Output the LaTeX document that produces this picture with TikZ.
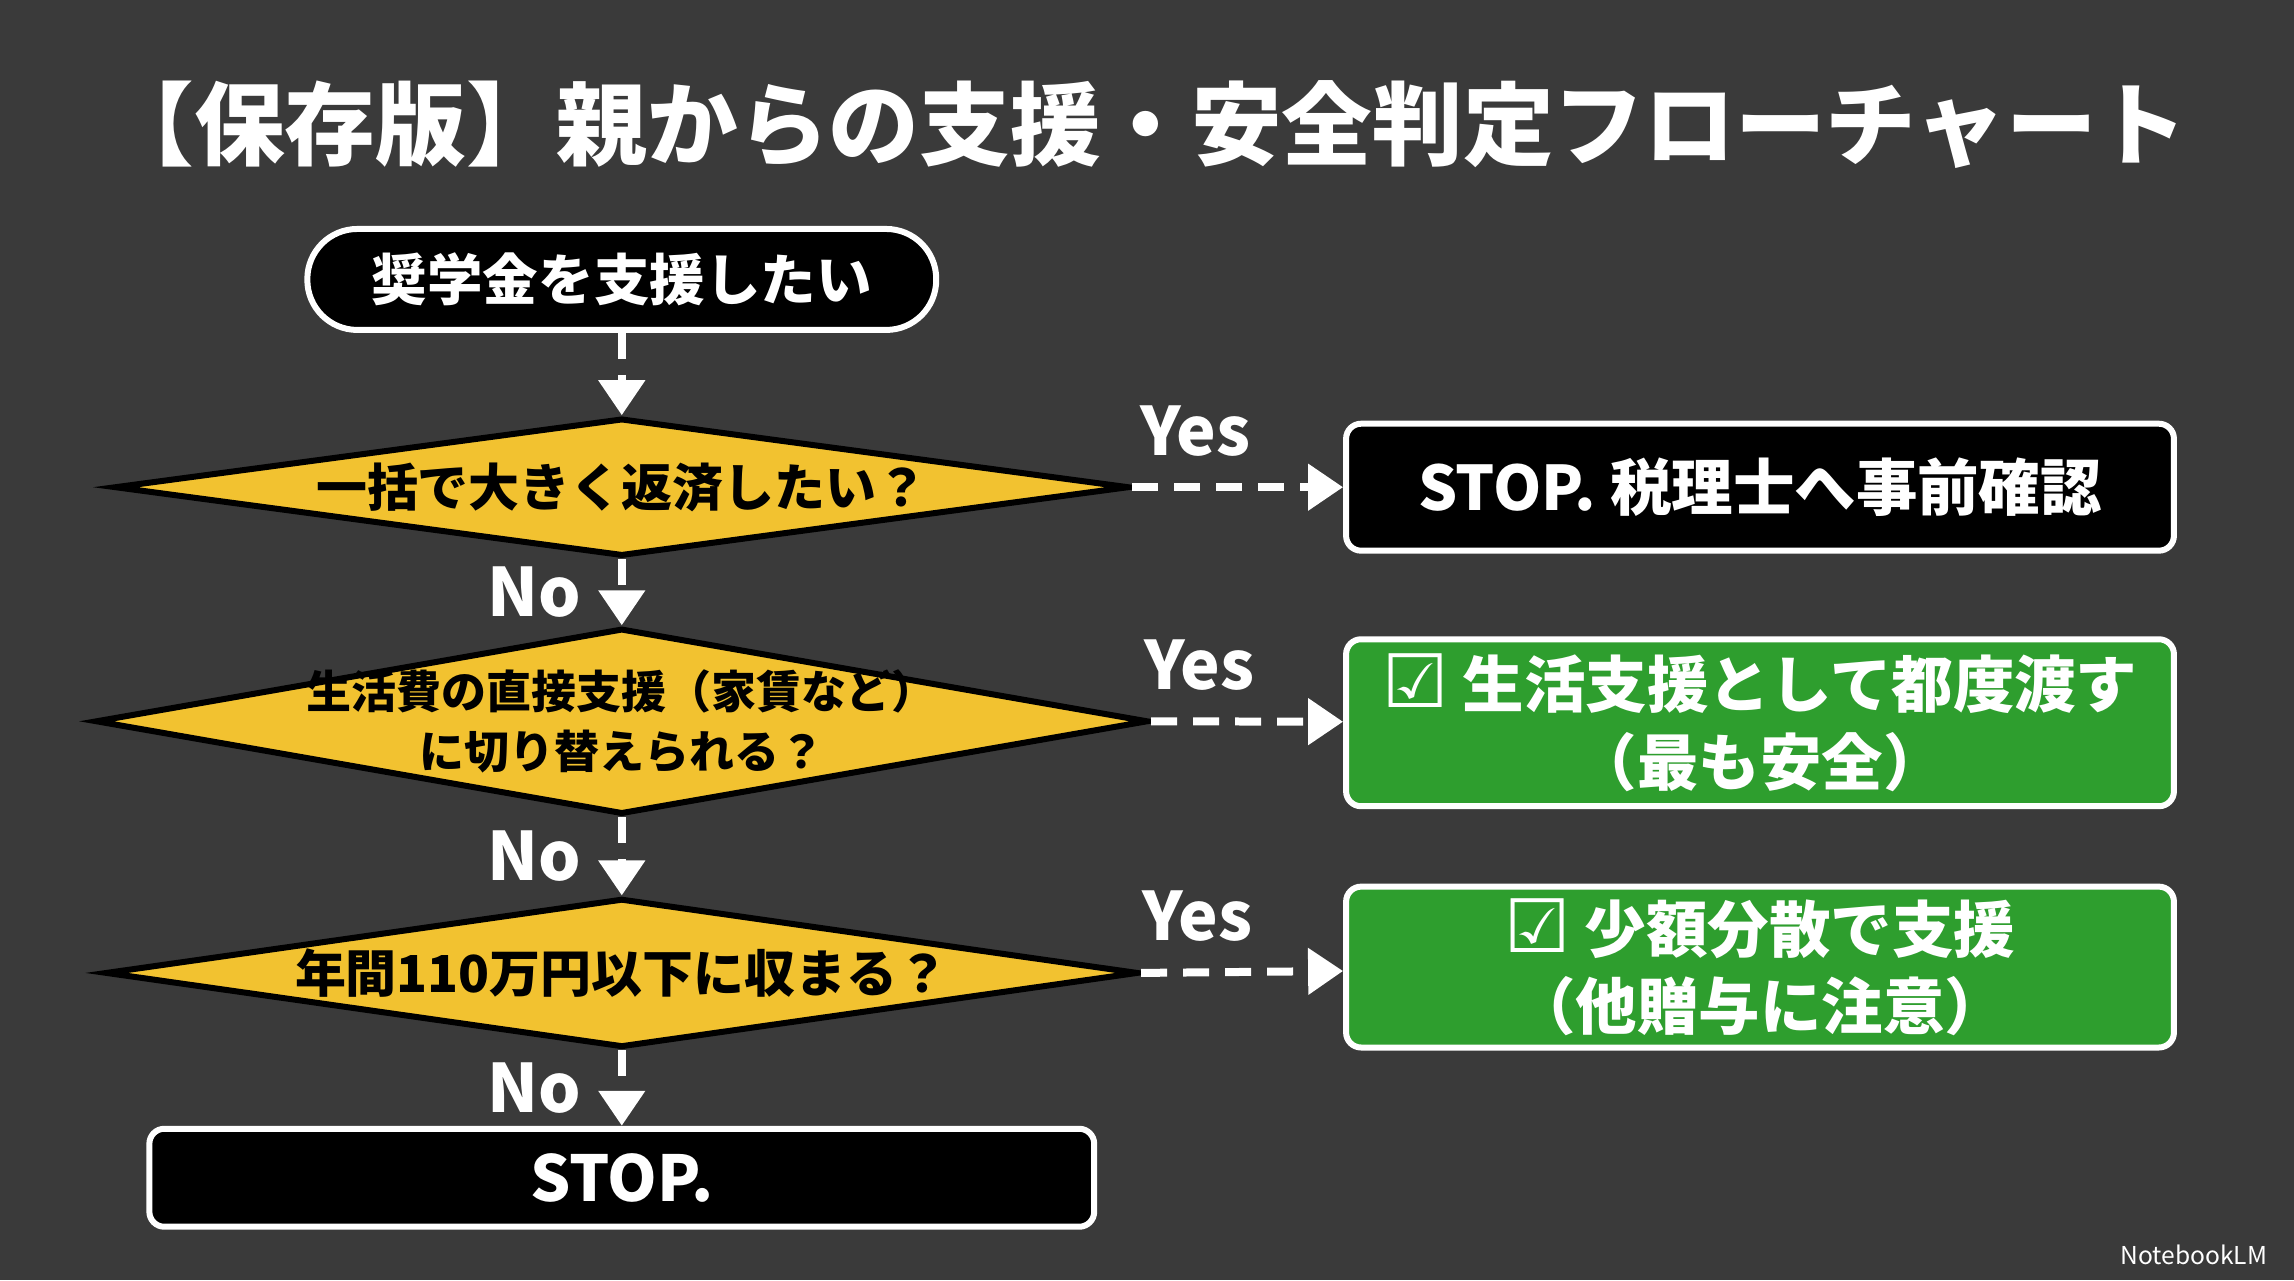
\documentclass[tikz,border=0pt]{standalone}
\usepackage{fontspec}
\setmainfont{Noto Sans CJK JP}
\newfontfamily\symfont{DejaVu Sans}
\usetikzlibrary{
    arrows.meta,            % Triangle arrow tips.
    positioning,            % Relative positioning of nodes.
    shapes.geometric        % Diamond decisions.
}
\definecolor{bgdark}{HTML}{3A3A3A}
\definecolor{qyellow}{HTML}{F2C230}
\definecolor{okgreen}{HTML}{2E9E2E}
\newcommand{\chk}{{\symfont\mdseries\fontsize{21}{22}\selectfont ☑}}
\tikzset{
    question/.style={diamond, draw=black, line width=0.6mm, fill=qyellow,
        inner sep=0pt, aspect=7.4},
    qtext/.style={align=center, text=black,
        font=\bfseries\fontsize{14.5}{19}\selectfont},
    endbox/.style={rectangle, rounded corners=1.5mm, draw=white,
        line width=0.6mm, fill=black, text=white, align=center,
        font=\bfseries\fontsize{17.5}{22}\selectfont},
    okbox/.style={endbox, fill=okgreen},
    flow/.style={draw=white, line width=0.8mm, dash pattern=on 2.6mm off 1.6mm,
        -{Triangle[length=3.5mm,width=4.5mm]}},
    answer/.style={text=white, font=\bfseries\fontsize{19}{22}\selectfont}
}
\begin{document}
\begin{tikzpicture}[x=0.01463cm, y=-0.01463cm]
                \useasboundingbox[fill=bgdark] (0,0) rectangle (1568,875);
                \node[text=white, font=\bfseries\fontsize{25.8}{31}\selectfont]
                    (title) at (783,85) {【保存版】親からの支援・安全判定フローチャート};
                \node[endbox, rounded corners=5mm, minimum width=6.29cm,
                    minimum height=1.01cm, font=\bfseries\fontsize{15.8}{19}\selectfont]
                    (start) at (425,191) {奨学金を支援したい};
                \node[question, minimum width=10.15cm, minimum height=1.38cm]
                    (q1) at (425,333) {};
                \node[qtext] at (q1) {一括で大きく返済したい？};
                \node[question, minimum width=10.53cm, minimum height=1.86cm]
                    (q2) at (425,493) {};
                \node[qtext, font=\bfseries\fontsize{12.8}{17}\selectfont]
                    at (q2) {生活費の直接支援（家賃など）\\に切り替えられる？};
                \node[question, minimum width=10.33cm, minimum height=1.49cm]
                    (q3) at (425,665) {};
                \node[qtext] at (q3) {年間110万円以下に収まる？};
                \node[endbox, minimum width=9.45cm, minimum height=0.98cm,
                    font=\bfseries\fontsize{18}{22}\selectfont]
                    (stop) at (425,805) {STOP.};
                \node[endbox, minimum width=8.28cm, minimum height=1.27cm]
                    (tax) at (1203,333) {STOP. 税理士へ事前確認};
                \node[okbox, minimum width=8.28cm, minimum height=1.67cm]
                    (living) at (1203,494) {\chk\ 生活支援として都度渡す\\（最も安全）};
                \node[okbox, minimum width=8.28cm, minimum height=1.54cm]
                    (small) at (1203,661) {\chk\ 少額分散で支援\\（他贈与に注意）};
                \draw[flow] (start) -- (q1);
                \draw[flow] (q1) -- node[answer, left=2.5mm] {No} (q2);
                \draw[flow] (q2) -- node[answer, left=2.5mm] {No} (q3);
                \draw[flow] (q3) -- node[answer, left=2.5mm] {No} (stop);
                \draw[flow] (q1.east) -- node[answer, above=1.5mm, pos=0.3] {Yes} (tax);
                \draw[flow] (q2.east) -- node[answer, above=1.5mm, pos=0.25] {Yes} (living);
                \draw[flow] (q3.east) -- node[answer, above=1.5mm, pos=0.28] {Yes} (small);
                \node[text=white, font=\fontsize{7}{8}\selectfont, anchor=east]
                    (mark) at (1558,858) {NotebookLM};
            \end{tikzpicture}
\end{document}
